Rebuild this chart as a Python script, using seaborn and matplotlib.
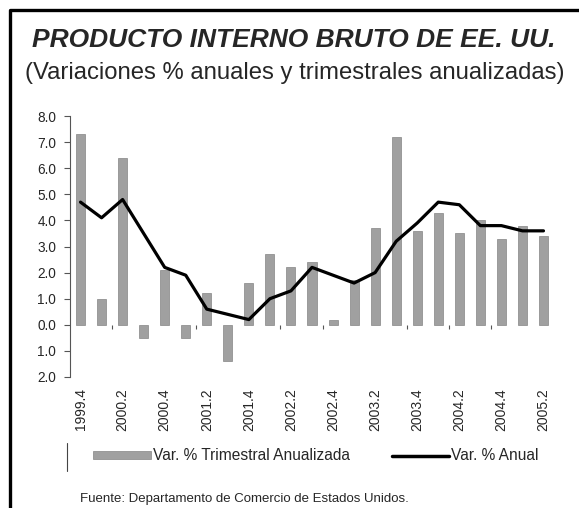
import numpy as np
import pandas as pd
import matplotlib
matplotlib.use('Agg')
import matplotlib.pyplot as plt
import seaborn as sns
from matplotlib.lines import Line2D
from matplotlib.patches import Patch

# Quarterly GDP data
quarters = ['1999.4', '2000.1', '2000.2', '2000.3', '2000.4',
            '2001.1', '2001.2', '2001.3', '2001.4',
            '2002.1', '2002.2', '2002.3', '2002.4',
            '2003.1', '2003.2', '2003.3', '2003.4',
            '2004.1', '2004.2', '2004.3', '2004.4',
            '2005.1', '2005.2']
trimestral = [7.3, 1.0, 6.4, -0.5, 2.1, -0.5, 1.2, -1.4, 1.6, 2.7, 2.2, 2.4,
              0.2, 1.7, 3.7, 7.2, 3.6, 4.3, 3.5, 4.0, 3.3, 3.8, 3.4]
anual = [4.7, 4.1, 4.8, 3.5, 2.2, 1.9, 0.6, 0.4, 0.2, 1.0, 1.3, 2.2,
         1.9, 1.6, 2.0, 3.2, 3.9, 4.7, 4.6, 3.8, 3.8, 3.6, 3.6]
y_ticks = [8.0, 7.0, 6.0, 5.0, 4.0, 3.0, 2.0, 1.0, 0.0, -1.0, -2.0]

df = pd.DataFrame({'Trimestre': quarters, 'Trimestral': trimestral, 'Anual': anual})

sns.set_style('white')
plt.rcParams['font.family'] = ['Liberation Sans', 'DejaVu Sans']

bar_color = '#a0a0a0'
bar_edge = '#858585'

fig = plt.figure(figsize=(5.79, 5.08), dpi=100)
ax = fig.add_axes([70 / 579, 131 / 508, 484 / 579, 261 / 508])

sns.barplot(data=df, x='Trimestre', y='Trimestral', color=bar_color,
            width=0.43, edgecolor=bar_edge, linewidth=0.5, saturation=1, ax=ax)
sns.lineplot(data=df, x='Trimestre', y='Anual', color='black', linewidth=2.3,
             sort=False, ax=ax)

ax.set_xlim(-0.5, len(quarters) - 0.5)
ax.set_ylim(-2.0, 8.0)
ax.set_yticks(y_ticks)
ax.set_yticklabels([f'{abs(v):.1f}' for v in y_ticks], fontsize=9.8)
ax.set_xticks(range(0, len(quarters), 2))
ax.set_xticklabels(quarters[::2], rotation=90, fontsize=10)
ax.tick_params(axis='x', length=0, pad=8)
ax.tick_params(axis='y', length=4, width=0.8, color='#555555', direction='out',
               left=True, pad=6)
ax.set_xlabel('')
ax.set_ylabel('')
for s in ['top', 'right', 'bottom']:
    ax.spines[s].set_visible(False)
ax.spines['left'].set_color('#555555')
ax.spines['left'].set_linewidth(0.8)

# small category ticks on the zero line
zero_pos = (0 - (-2.0)) / (8.0 - (-2.0))
sec = ax.secondary_xaxis(zero_pos)
sec.set_xticks([1.5, 5.5, 9.5, 11.5, 15.5, 17.5, 19.5])
sec.set_xticklabels([])
sec.tick_params(length=3, width=0.8, color='#555555', direction='out')
sec.spines['bottom'].set_visible(False)

# titles
fig.text(294 / 579, 1 - 40 / 508, 'PRODUCTO INTERNO BRUTO DE EE. UU.',
         ha='center', va='center', fontsize=19, fontweight='bold', fontstyle='italic')
fig.text(295 / 579, 1 - 73 / 508, '(Variaciones % anuales y trimestrales anualizadas)',
         ha='center', va='center', fontsize=17.2)

# legend
handles = [Patch(facecolor=bar_color, edgecolor=bar_edge, linewidth=0.5),
           Line2D([], [], color='black', linewidth=2.5)]
fig.legend(handles, ['Var. % Trimestral Anualizada', 'Var. % Anual'],
           loc='center', bbox_to_anchor=(316 / 579, 1 - 456 / 508), ncol=2,
           frameon=False, fontsize=11.2, handlelength=3.7, handleheight=0.45,
           handletextpad=0.12, columnspacing=2.7)
fig.add_artist(Line2D([67 / 579, 67 / 579], [1 - 443 / 508, 1 - 471 / 508],
                      transform=fig.transFigure, color='#444444', linewidth=0.8))

fig.text(80 / 579, 1 - 499 / 508, 'Fuente: Departamento de Comercio de Estados Unidos.',
         ha='left', va='center', fontsize=9.5)

# outer frame
fig.add_artist(Line2D([9.5 / 579, 9.5 / 579, 1.0], [0.0, 1 - 9.5 / 508, 1 - 9.5 / 508],
                      transform=fig.transFigure, color='black', linewidth=2.4))

fig.savefig('out.png', dpi=100)
